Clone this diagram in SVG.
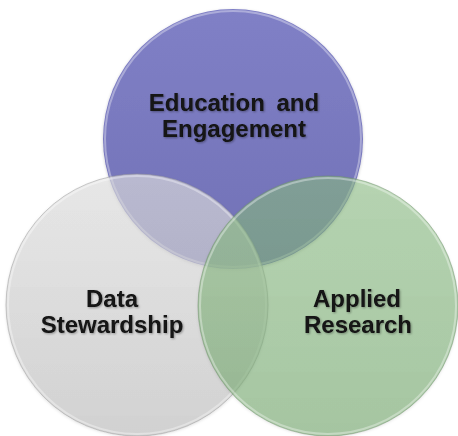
<svg xmlns="http://www.w3.org/2000/svg" width="458" height="436" viewBox="0 0 458 436">
  <style>
    .lbl { font-family: "Liberation Sans", Arial, sans-serif; font-weight: bold; font-size: 24px; fill: #121212; text-anchor: middle; filter: url(#tshadow); }
    .rim { fill: none; stroke-width: 1; }
    .hl { fill: none; stroke: #ffffff; stroke-width: 2; stroke-opacity: 0.35; }
  </style>
  <defs>
    <linearGradient id="gPurple" x1="0" y1="0" x2="0" y2="1">
      <stop offset="0" stop-color="#8080c6"/>
      <stop offset="1" stop-color="#7171b6"/>
    </linearGradient>
    <linearGradient id="gGray" x1="0" y1="0" x2="0" y2="1">
      <stop offset="0" stop-color="#e2e2e2" stop-opacity="0.62"/>
      <stop offset="1" stop-color="#c4c4c4" stop-opacity="0.66"/>
    </linearGradient>
    <linearGradient id="gGreen" x1="0" y1="0" x2="0" y2="1">
      <stop offset="0" stop-color="#8cbf84" stop-opacity="0.56"/>
      <stop offset="1" stop-color="#78ab72" stop-opacity="0.6"/>
    </linearGradient>
    <filter id="tshadow" x="-10%" y="-20%" width="120%" height="140%">
      <feDropShadow dx="1" dy="1" stdDeviation="1.2" flood-color="#000000" flood-opacity="0.35"/>
    </filter>
    <filter id="cshadow" x="-10%" y="-10%" width="120%" height="120%">
      <feDropShadow dx="0" dy="1" stdDeviation="1.5" flood-color="#000000" flood-opacity="0.2"/>
    </filter>
  </defs>

  <g id="node-education">
    <circle cx="233" cy="139" r="130" fill="url(#gPurple)" filter="url(#cshadow)"/>
    <circle cx="233" cy="139" r="128" class="hl"/>
    <text class="lbl" x="234" y="111" word-spacing="5">Education and</text>
    <text class="lbl" x="234" y="137">Engagement</text>
  </g>

  <g id="node-data">
    <circle cx="137" cy="305" r="131" fill="url(#gGray)" filter="url(#cshadow)"/>
    <circle cx="137" cy="305" r="131" class="rim" stroke="#9a9a9a" stroke-opacity="0.5"/>
    <circle cx="137" cy="305" r="129" class="hl"/>
    <text class="lbl" x="112" y="307">Data</text>
    <text class="lbl" x="112" y="333">Stewardship</text>
  </g>

  <g id="node-research">
    <circle cx="328" cy="306" r="130" fill="url(#gGreen)" filter="url(#cshadow)"/>
    <circle cx="328" cy="306" r="130" class="rim" stroke="#6f8f6b" stroke-opacity="0.5"/>
    <circle cx="328" cy="306" r="128" class="hl"/>
    <text class="lbl" x="357" y="307">Applied</text>
    <text class="lbl" x="358" y="333">Research</text>
  </g>

  <g id="connectors"/>
</svg>
